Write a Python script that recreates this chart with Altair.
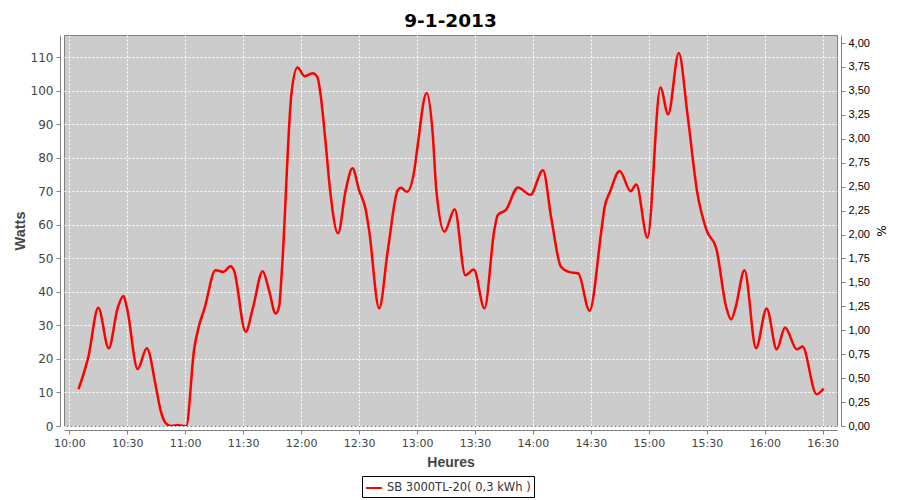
import altair as alt
import pandas as pd

# minutes after 10:00 and power in watts
minutes = [4.8, 9.9, 15, 20.4, 25, 28, 29.9, 35.4, 40.1, 45, 47.2, 50, 53, 56, 59, 60.5,
           64.7, 67, 70, 75.7, 79.7, 83.5, 85.2, 91.3, 95, 100.1, 103.4, 106.8, 108.6, 110,
           115, 118.1, 121.9, 125.9, 128.4, 130, 132.7, 135, 139.1, 143.1, 146.6, 150, 153.5,
           155.2, 160.4, 164.9, 170, 171.7, 174.8, 178.6, 180, 185, 188.1, 190, 194.2, 199.5,
           205, 209.4, 214.9, 220, 221.8, 226, 232.2, 238.7, 245.2, 249.5, 254.5, 258.5, 263.5,
           269.3, 275.4, 277, 280, 284.9, 290.6, 293.5, 299.3, 306, 310, 315.5, 320, 325,
           329.9, 334.9, 340, 342.6, 345, 349.5, 355.5, 361, 366.2, 370.5, 376.6, 379.5,
           386.8, 390.5]
watts = [11, 20.7, 35.3, 23.2, 35.1, 38.8, 35.1, 17, 23.2, 11.2, 4.8, 0.8, 0, 0.3, 0, 0,
         23.2, 29.6, 35.1, 46.5, 46, 47.7, 46.5, 28.1, 35.1, 46.2, 40.5, 33.6, 35.6, 46,
         99.2, 107, 104.4, 105.3, 104.2, 99.2, 84.4, 70.4, 57.5, 70.4, 76.9, 70.4, 64.4,
         58.4, 35.1, 52.5, 70.4, 71.1, 69.9, 76.3, 82.3, 99.4, 87.4, 70.4, 58, 64.7,
         45, 46.7, 35.1, 58.4, 63, 64.5, 71.2, 69, 76.3, 62, 47.5, 46, 45.5,
         34.4, 58.2, 65, 70, 76.1, 70.1, 72.1, 56.2, 101, 93, 111.3, 93, 69.9,
         58.4, 53, 35.6, 31.8, 35.6, 46.5, 23.2, 35.1, 22.9, 29.4, 22.9, 23.7,
         9.5, 11.2]
series_name = "SB 3000TL-20( 0,3 kWh )"

x_ticks = list(range(0, 391, 30))
y_ticks = list(range(0, 111, 10))
pct_ticks = [i * 0.25 for i in range(17)]

df = pd.DataFrame({"t": minutes, "w": watts, "s": series_name})
df_pct = pd.DataFrame({"p": [0.0, 4.0]})

FONT = "DejaVu Sans"
BOLD = "Liberation Sans"

line = alt.Chart(df).mark_line(
    color="#FF0000", strokeWidth=2.5, interpolate="monotone", clip=True
).encode(
    x=alt.X("t:Q",
            scale=alt.Scale(domain=[-2.74, 397.4], nice=False, zero=False),
            axis=alt.Axis(values=x_ticks, title="Heures", offset=4,
                          labelExpr="timeFormat(datetime(2013, 0, 9, 10, datum.value, 0), '%H:%M')",
                          labelFont=FONT, labelFontSize=11, labelColor="#444444",
                          labelPadding=3,
                          titleFont=BOLD, titleFontSize=14, titleFontWeight="bold",
                          titleColor="#444444", titlePadding=7,
                          domainColor="#808080", tickColor="#808080", tickSize=4,
                          grid=True, gridColor="white", gridDash=[2, 2], gridWidth=1,
                          gridOpacity=1)),
    y=alt.Y("w:Q",
            scale=alt.Scale(domain=[0, 116.7], nice=False),
            axis=alt.Axis(values=y_ticks, title="Watts", offset=4, orient="left",
                          labelFont=FONT, labelFontSize=12, labelColor="#444444",
                          labelPadding=3,
                          titleFont=BOLD, titleFontSize=14.5, titleFontWeight="bold",
                          titleColor="#444444", titlePadding=3,
                          domainColor="#808080", tickColor="#808080", tickSize=4,
                          grid=True, gridColor="white", gridDash=[2, 2], gridWidth=1,
                          gridOpacity=1)),
    color=alt.Color("s:N",
                    scale=alt.Scale(domain=[series_name], range=["#FF0000"]),
                    legend=alt.Legend(orient="none", legendX=298, legendY=441, title=None,
                                      strokeColor="black", fillColor="white", padding=3,
                                      cornerRadius=0, symbolType="stroke",
                                      symbolStrokeWidth=2, symbolSize=250,
                                      labelFont=FONT, labelFontSize=11.5,
                                      labelColor="#333333")),
)

right = alt.Chart(df_pct).mark_point(opacity=0).encode(
    x=alt.value(0),
    y=alt.Y("p:Q",
            scale=alt.Scale(domain=[0, 4.084], nice=False),
            axis=alt.Axis(values=pct_ticks, title="%", orient="right", offset=4,
                          labelExpr="replace(format(datum.value, '.2f'), '.', ',')",
                          labelFont="Liberation Sans", labelFontSize=11, labelColor="black",
                          labelPadding=3,
                          titleFont=FONT, titleFontSize=12, titleFontWeight="normal",
                          titleColor="black", titlePadding=4,
                          domainColor="#808080", tickColor="#808080", tickSize=4,
                          grid=False)),
)

chart = alt.layer(line, right).resolve_scale(y="independent").properties(
    width=773, height=391,
    autosize=alt.AutoSizeParams(type="none"),
    padding={"left": 56, "top": 27, "right": 55, "bottom": 72},
    title=alt.TitleParams("9-1-2013", font=FONT, fontSize=18.5, fontWeight="bold",
                          color="black", anchor="middle", offset=5),
).configure_view(fill="#CCCCCC", stroke="#808080", strokeWidth=1)

chart.save("out.html", embed_options={"renderer": "svg", "actions": False})
